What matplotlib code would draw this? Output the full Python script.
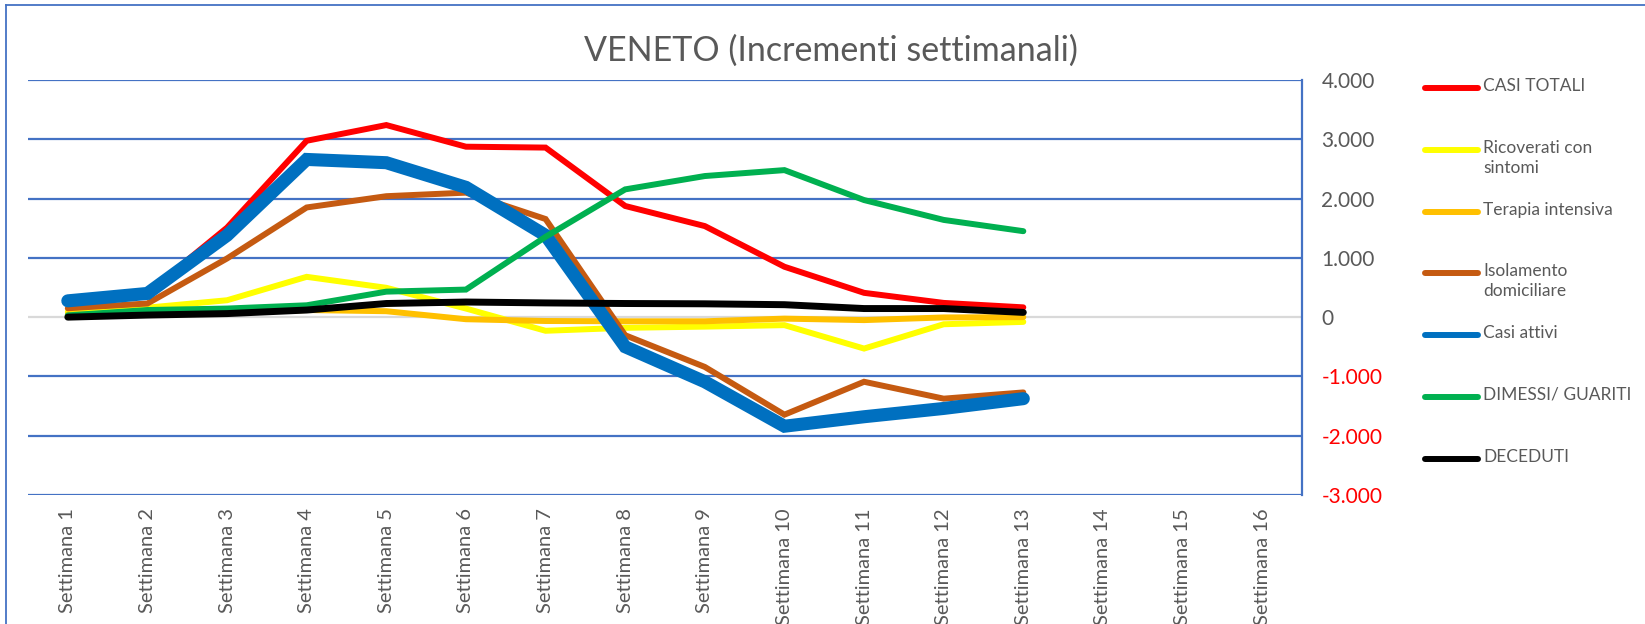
import matplotlib
matplotlib.use("Agg")
import matplotlib.pyplot as plt
from matplotlib.lines import Line2D

plt.rcParams["font.family"] = ["Lato", "DejaVu Sans"]

weeks = [f"Settimana {i}" for i in range(1, 17)]
series_names = [
    "CASI TOTALI",
    "Ricoverati con\nsintomi",
    "Terapia intensiva",
    "Isolamento\ndomiciliare",
    "Casi attivi",
    "DIMESSI/ GUARITI",
    "DECEDUTI",
]
# weekly increments, weeks 1-13 (14-16 still empty)
casi_totali = [260, 410, 1510, 2975, 3240, 2875, 2860, 1875, 1536, 850, 410, 240, 165]
ricoverati = [90, 160, 285, 680, 495, 145, -230, -180, -160, -135, -530, -120, -80]
terapia = [45, 60, 80, 120, 100, -35, -65, -70, -70, -25, -50, -5, 0]
isolamento = [150, 230, 990, 1850, 2040, 2100, 1655, -305, -840, -1645, -1090, -1375, -1270]
casi_attivi = [275, 400, 1380, 2660, 2605, 2190, 1380, -500, -1090, -1840, -1680, -1540, -1375]
dimessi = [30, 120, 145, 200, 430, 465, 1355, 2155, 2380, 2480, 1975, 1640, 1450]
deceduti = [0, 35, 60, 120, 230, 255, 240, 230, 225, 210, 145, 145, 80]

colors = ["#FF0000", "#FFFF00", "#FFC000", "#C55A11", "#0070C0", "#00B050", "#000000"]
widths = [4.3, 4.3, 4.3, 4.3, 9.4, 4.3, 5.0]
data = [casi_totali, ricoverati, terapia, isolamento, casi_attivi, dimessi, deceduti]

W, H = 1645, 624
fig = plt.figure(figsize=(W / 100, H / 100), dpi=100)
ax = fig.add_axes([28 / W, 1 - 495 / H, 1274 / W, 415 / H])

for vals, c, lw in zip(data, colors, widths):
    ax.plot(range(len(vals)), vals, color=c, lw=lw, solid_capstyle="round",
            solid_joinstyle="miter")

ax.set_xlim(-0.5, len(weeks) - 0.5)
ax.set_ylim(-3000, 4000)
ax.set_xticks(range(len(weeks)))
ax.set_xticklabels(weeks, rotation=90, va="top", ha="center", fontsize=14.5, color="#595959")
ax.tick_params(axis="x", length=0, pad=9.5)

yt = list(range(-3000, 4001, 1000))
ax.set_yticks(yt)
ax.set_yticklabels([f"{v:,.0f}".replace(",", ".") for v in yt], fontsize=15)
ax.yaxis.tick_right()
ax.tick_params(axis="y", length=0, pad=14)
for lab, v in zip(ax.get_yticklabels(), yt):
    lab.set_color("#FF0000" if v < 0 else "#595959")

ax.grid(axis="y", color="#4472C4", lw=1.6)
ax.set_axisbelow(True)
for gl, v in zip(ax.get_ygridlines(), yt):
    if v == 0:
        gl.set_color("#D9D9D9")
for s in ["left", "top", "bottom"]:
    ax.spines[s].set_visible(False)
ax.spines["right"].set_color("#4472C4")
ax.spines["right"].set_linewidth(1.6)

fig.text(831 / W, 1 - 51 / H, "VENETO (Incrementi settimanali)", ha="center", va="center",
         fontsize=24.5, color="#595959")

# legend drawn by hand so the marker sits on the first text line
for i, (name, c) in enumerate(zip(series_names, colors)):
    y = 1 - (88 + i * 61.8) / H
    fig.add_artist(Line2D([1425 / W, 1478 / W], [y, y], color=c, lw=4.3,
                          solid_capstyle="round"))
    fig.text(1483 / W, y + 10 / H, name, ha="left", va="top", fontsize=12.5,
             color="#595959", linespacing=1.3)

# chart frame (only left/top visible in the crop)
fig.add_artist(Line2D([5.5 / W, 5.5 / W], [0, 1 - 5 / H], color="#4472C4", lw=1.3))
fig.add_artist(Line2D([5.5 / W, 1], [1 - 5 / H, 1 - 5 / H], color="#4472C4", lw=1.3))

fig.savefig("out.png", dpi=100)
